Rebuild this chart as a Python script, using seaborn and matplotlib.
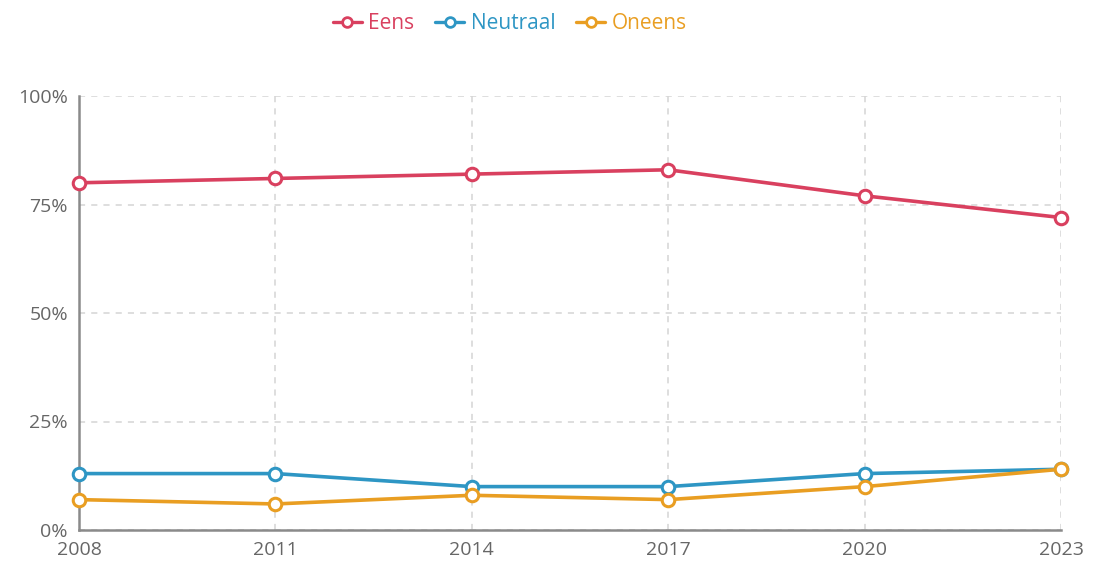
import numpy as np
import pandas as pd
import matplotlib.pyplot as plt
import seaborn as sns
from matplotlib.ticker import PercentFormatter

# waarden
years    = [2008, 2011, 2014, 2017, 2020, 2023]
eens     = [80, 81, 82, 83, 77, 72]
neutraal = [13, 13, 10, 10, 13, 14]
oneens   = [7, 6, 8, 7, 10, 14]

series = ["Eens", "Neutraal", "Oneens"]
COLOR = {"Eens": "#d9405f", "Neutraal": "#2e96c4", "Oneens": "#e99e22"}

df = pd.DataFrame({"jaar": years, "Eens": eens, "Neutraal": neutraal, "Oneens": oneens})
long = df.melt(id_vars="jaar", var_name="reeks", value_name="pct")

sns.set_style("white")
plt.rcParams["font.family"] = ["Open Sans", "DejaVu Sans"]

fig = plt.figure(figsize=(10.96, 5.65), dpi=100)
ax = fig.add_axes([79 / 1096, 35 / 565, 982 / 1096, 434 / 565])

sns.lineplot(data=long, x="jaar", y="pct", hue="reeks", hue_order=series,
             palette=COLOR, marker="o", markersize=9, markerfacecolor="white",
             markeredgewidth=2.2, linewidth=2.6, ax=ax, legend=False, zorder=3)
# markerrand in lijnkleur, niet wit; niet afknippen aan de randen
for ln in ax.lines:
    ln.set_markeredgecolor(ln.get_color())
    ln.set_clip_on(False)

ax.set_xlim(2008, 2023)
ax.set_ylim(0, 100)
ax.set_xticks(years)
ax.set_yticks([0, 25, 50, 75, 100])
ax.yaxis.set_major_formatter(PercentFormatter(decimals=0))
ax.set(xlabel="", ylabel="")
ax.grid(True, color="#d4d4d4", linestyle=(0, (4, 4)), linewidth=1.1)
ax.set_axisbelow(True)

for s in ["top", "right"]:
    ax.spines[s].set_visible(False)
for s in ["left", "bottom"]:
    ax.spines[s].set_color("#8a8a8a")
    ax.spines[s].set_linewidth(1.8)
ax.tick_params(axis="both", direction="out", length=6, width=1.5, color="#8a8a8a",
               labelcolor="#666666", labelsize=14, pad=2)

# legenda bovenaan
handles = [plt.Line2D([], [], color=COLOR[s], marker="o", markerfacecolor="white",
                      markeredgecolor=COLOR[s], markeredgewidth=2, markersize=7,
                      linewidth=2.4) for s in series]
leg = fig.legend(handles, series, loc="upper center", bbox_to_anchor=(0.465, 1.01),
                 ncol=3, frameon=False, fontsize=15, handlelength=1.4,
                 handletextpad=0.3, columnspacing=1.0)
for txt, s in zip(leg.get_texts(), series):
    txt.set_color(COLOR[s])

fig.savefig("out.png", dpi=100)
